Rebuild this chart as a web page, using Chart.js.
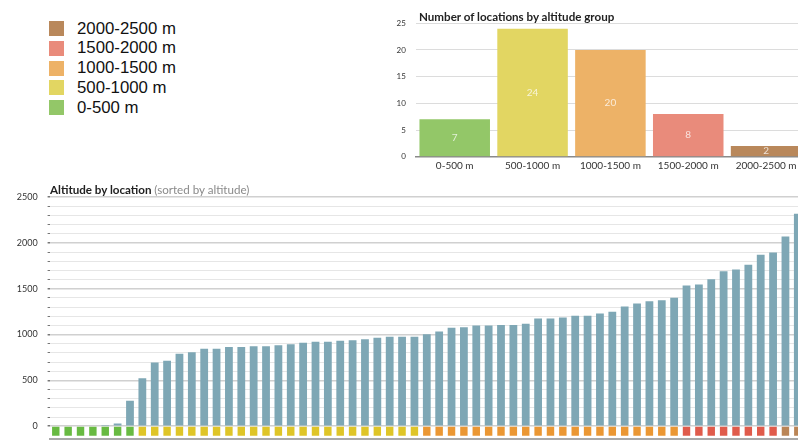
<!DOCTYPE html>
<html>
<head>
<meta charset="utf-8">
<script src="https://cdn.jsdelivr.net/npm/chart.js@4/dist/chart.umd.min.js"></script>
<style>
html,body{margin:0;padding:0;background:#fff;overflow:hidden;width:798px;height:441px;}
body{position:relative;font-family:Lato,"Open Sans",sans-serif;}
canvas{position:absolute;}
#legend{position:absolute;left:49px;top:18.6px;font-family:"Liberation Sans",Arial,sans-serif;font-size:16.8px;color:#111;}
.li{display:flex;align-items:center;height:19.8px;white-space:nowrap;}
.sw{width:15px;height:15px;margin-right:13px;flex:none;}
.title{position:absolute;z-index:2;font-family:Lato,sans-serif;font-size:11.6px;font-weight:bold;color:#222;white-space:nowrap;line-height:14px;}
.title span{font-weight:normal;color:#8a8a8a;}
</style>
</head>
<body>
<div id="legend"></div>
<div class="title" id="groupsTitle" style="left:419px;top:10px;">Number of locations by altitude group</div>
<div class="title" id="mainTitle" style="left:50px;top:183px;">Altitude by location <span>(sorted by altitude)</span></div>
<canvas id="groups" width="425" height="175" style="left:380px;top:0px;"></canvas>
<canvas id="main" width="804" height="282" style="left:0px;top:177px;"></canvas>
<script>
// ---- data ----
const altitudeGroups = ['0-500 m', '500-1000 m', '1000-1500 m', '1500-2000 m', '2000-2500 m'];
const groupCounts = [7, 24, 20, 8, 2];
const groupTicks = [0, 5, 10, 15, 20, 25];

const locations = ['1','2','3','4','5','6','7','8','9','10','11','12','13','14','15','16','17','18','19','20',
  '21','22','23','24','25','26','27','28','29','30','31','32','33','34','35','36','37','38','39','40',
  '41','42','43','44','45','46','47','48','49','50','51','52','53','54','55','56','57','58','59','60','61'];
const altitudes = [0, 0, 0, 0, 12, 30, 276,
  524, 695, 713, 789, 807, 844, 844, 865, 865, 873, 873,
  884, 895, 909, 920, 920, 931, 938, 949, 964, 975, 975, 975,
  1004, 1033, 1073, 1080, 1098, 1098, 1105, 1105, 1116,
  1175, 1175, 1185, 1204, 1204, 1229, 1247, 1305, 1338, 1364, 1375, 1400,
  1535, 1545, 1604, 1691, 1709, 1760, 1869, 1895, 2069, 2316];
const altitudeTicks = [0, 500, 1000, 1500, 2000, 2500];
const groupBounds = [500, 1000, 1500, 2000, 2500];

// ---- styles ----
const groupColors = ['#93c768', '#e2d662', '#edb267', '#e98b7b', '#b9885b'];
const stripColors = ['#68ba42', '#dfc527', '#eb9733', '#e05b4b', '#ba8556'];
const barColor = '#7ea7b5';
const stripRange = [-105, -6];

// legend (reverse order)
const legendEl = document.getElementById('legend');
for (let i = altitudeGroups.length - 1; i >= 0; i--) {
  const row = document.createElement('div');
  row.className = 'li';
  const sw = document.createElement('div');
  sw.className = 'sw';
  sw.style.background = groupColors[i];
  const t = document.createElement('span');
  t.textContent = altitudeGroups[i];
  row.appendChild(sw); row.appendChild(t);
  legendEl.appendChild(row);
}

function groupOf(v) {
  for (let i = 0; i < groupBounds.length; i++) if (v < groupBounds[i]) return i;
  return groupBounds.length - 1;
}

const valueLabels = {
  id: 'valueLabels',
  afterDatasetsDraw(chart) {
    const ctx = chart.ctx;
    const meta = chart.getDatasetMeta(0);
    ctx.save();
    ctx.font = '10px Lato';
    ctx.fillStyle = 'rgba(255,255,255,0.75)';
    ctx.textAlign = 'center';
    ctx.textBaseline = 'middle';
    meta.data.forEach((bar, i) => {
      ctx.fillText(String(chart.data.datasets[0].data[i]), bar.x, (bar.y + bar.base) / 2);
    });
    ctx.restore();
  }
};

new Chart(document.getElementById('groups'), {
  type: 'bar',
  data: {
    labels: altitudeGroups,
    datasets: [{
      data: groupCounts,
      backgroundColor: groupColors,
      barPercentage: 0.906,
      categoryPercentage: 1
    }]
  },
  options: {
    responsive: false,
    animation: false,
    devicePixelRatio: 1,
    layout: { padding: { top: 23.3, right: 0, bottom: 0, left: 0 } },
    plugins: { legend: { display: false }, tooltip: { enabled: false } },
    scales: {
      x: {
        grid: { display: false, drawTicks: false },
        border: { display: true, color: '#8a8a8a', width: 1.5 },
        ticks: { font: { family: 'Lato', size: 10 }, color: '#333', padding: 3, maxRotation: 0, autoSkip: false },
        afterFit(s) { s.height = 18.3; }
      },
      y: {
        min: 0, max: 25,
        afterBuildTicks(s) { s.ticks = groupTicks.map(v => ({ value: v })); },
        ticks: { font: { family: 'Lato', size: 8 }, color: '#333', padding: 10 },
        grid: { color: '#dcdcdc', drawTicks: false },
        border: { display: false },
        afterFit(s) { s.width = 35.8; }
      }
    }
  },
  plugins: [valueLabels]
});

new Chart(document.getElementById('main'), {
  type: 'bar',
  data: {
    labels: locations,
    datasets: [{
      data: altitudes,
      backgroundColor: barColor,
      barPercentage: 0.63,
      categoryPercentage: 1,
      grouped: false
    }, {
      data: altitudes.map(() => stripRange),
      backgroundColor: altitudes.map(v => stripColors[groupOf(v)]),
      barPercentage: 0.6,
      categoryPercentage: 1,
      grouped: false
    }]
  },
  options: {
    responsive: false,
    animation: false,
    devicePixelRatio: 1,
    layout: { padding: { top: 20, right: 0, bottom: 20, left: 0 } },
    plugins: { legend: { display: false }, tooltip: { enabled: false } },
    scales: {
      x: {
        ticks: { display: false },
        grid: { display: false, drawTicks: false },
        border: { display: true, color: '#a9a9a9', width: 2 },
        afterFit(s) { s.height = 0; }
      },
      y: {
        min: -140, max: 2500,
        afterBuildTicks(s) { s.ticks = s.ticks.filter(t => t.value >= 0); },
        ticks: {
          stepSize: 100, autoSkip: false,
          callback: v => altitudeTicks.includes(v) ? String(v) : '',
          font: { family: 'Lato', size: 9 }, color: '#333', padding: 10
        },
        grid: {
          color: c => (c.tick && altitudeTicks.includes(c.tick.value)) ? '#d0d0d0' : '#e6e6e6',
          lineWidth: c => (c.tick && altitudeTicks.includes(c.tick.value)) ? 1.5 : 1,
          tickLength: 2,
          tickColor: '#777'
        },
        border: { display: false },
        afterFit(s) { s.width = 49.6; }
      }
    }
  }
});
</script>
</body>
</html>
